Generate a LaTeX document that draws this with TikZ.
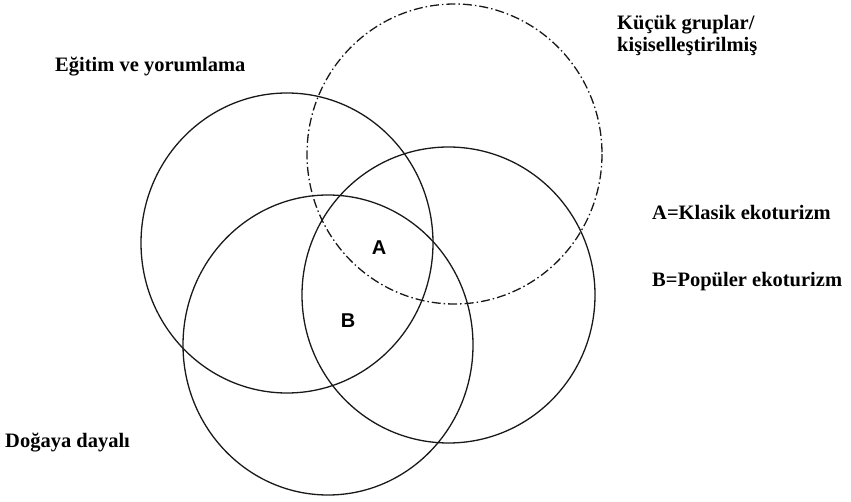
\documentclass[tikz,border=0pt]{standalone}
\usepackage{fontspec}
\setmainfont{Liberation Serif}
\newfontfamily\labelfont{Liberation Sans}
\usepackage{tikz}
\usetikzlibrary{calc}

\tikzset{
  ring/.style={line width=1.3pt, black!90},
  dashring/.style={ring, dash pattern=on 9pt off 3pt on 1.5pt off 3pt},
  legend/.style={inner sep=0pt, anchor=base west, font=\fontsize{20.5}{24}\selectfont\bfseries},
  region/.style={inner sep=0pt, font=\labelfont\fontsize{20}{22}\selectfont\bfseries}
}

\begin{document}
\begin{tikzpicture}[x=1pt,y=-1pt]
  \useasboundingbox (0,0) rectangle (851,502);
  % the four sets
  \draw[ring] (287,243) ellipse [x radius=146, y radius=150];
  \draw[dashring] (454.5,154) ellipse [x radius=147.5, y radius=150];
  \draw[ring] (328,345) ellipse [x radius=145, y radius=150];
  \draw[ring] (448.5,295) ellipse [x radius=146.5, y radius=148];
  % set names
  \node[legend] (egitim) at (55,72) {Eğitim ve yorumlama};
  \node[legend] (kucuk) at (617,30) {Küçük gruplar/};
  \node[legend] (kisisel) at (617,52) {kişiselleştirilmiş};
  \node[legend] (doga) at (5,447) {Doğaya dayalı};
  % key
  \node[legend] (klasik) at (652,220) {A=Klasik ekoturizm};
  \node[legend] (populer) at (652,287) {B=Popüler ekoturizm};
  \node[region] (A) at (379,248) {A};
  \node[region] (B) at (348,321) {B};
\end{tikzpicture}
\end{document}
